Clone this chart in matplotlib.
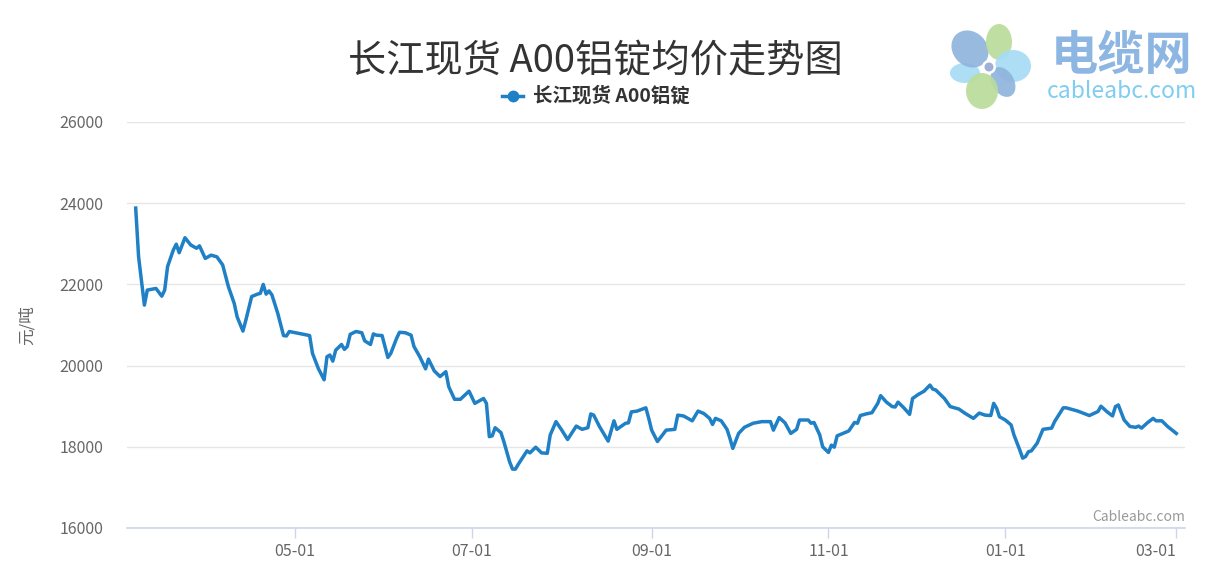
import matplotlib
matplotlib.use("Agg")
import matplotlib.pyplot as plt
import matplotlib.dates as mdates
from matplotlib.patches import Circle, Ellipse
import pandas as pd

plt.rcParams['font.family'] = ['Noto Sans CJK SC', 'DejaVu Sans']

title = "长江现货 A00铝锭均价走势图"
series_name = "长江现货 A00铝锭"
y_label = "元/吨"

dates = [
    "2022-03-07", "2022-03-08", "2022-03-10", "2022-03-11", "2022-03-14", "2022-03-16",
    "2022-03-17", "2022-03-18", "2022-03-20", "2022-03-21", "2022-03-22", "2022-03-24",
    "2022-03-26", "2022-03-28", "2022-03-29", "2022-03-31", "2022-04-02", "2022-04-04",
    "2022-04-06", "2022-04-08", "2022-04-10", "2022-04-11", "2022-04-13", "2022-04-14",
    "2022-04-16", "2022-04-18", "2022-04-19", "2022-04-20", "2022-04-21", "2022-04-22",
    "2022-04-23", "2022-04-25", "2022-04-27", "2022-04-28", "2022-04-29", "2022-05-06",
    "2022-05-07", "2022-05-09", "2022-05-11", "2022-05-12", "2022-05-13", "2022-05-14",
    "2022-05-15", "2022-05-17", "2022-05-18", "2022-05-19", "2022-05-20", "2022-05-22",
    "2022-05-24", "2022-05-25", "2022-05-27", "2022-05-28", "2022-05-29", "2022-05-31",
    "2022-06-02", "2022-06-03", "2022-06-05", "2022-06-06", "2022-06-08", "2022-06-10",
    "2022-06-11", "2022-06-13", "2022-06-15", "2022-06-16", "2022-06-18", "2022-06-20",
    "2022-06-22", "2022-06-23", "2022-06-25", "2022-06-27", "2022-06-30", "2022-07-02",
    "2022-07-05", "2022-07-06", "2022-07-07", "2022-07-08", "2022-07-09", "2022-07-11",
    "2022-07-12", "2022-07-14", "2022-07-15", "2022-07-16", "2022-07-17", "2022-07-20",
    "2022-07-21", "2022-07-23", "2022-07-25", "2022-07-27", "2022-07-28", "2022-07-30",
    "2022-08-01", "2022-08-03", "2022-08-06", "2022-08-08", "2022-08-10", "2022-08-11",
    "2022-08-12", "2022-08-14", "2022-08-17", "2022-08-19", "2022-08-20", "2022-08-23",
    "2022-08-24", "2022-08-25", "2022-08-27", "2022-08-30", "2022-08-31", "2022-09-01",
    "2022-09-03", "2022-09-06", "2022-09-09", "2022-09-10", "2022-09-12", "2022-09-15",
    "2022-09-17", "2022-09-19", "2022-09-21", "2022-09-22", "2022-09-23", "2022-09-25",
    "2022-09-27", "2022-09-28", "2022-09-29", "2022-10-01", "2022-10-03", "2022-10-06",
    "2022-10-09", "2022-10-12", "2022-10-13", "2022-10-15", "2022-10-17", "2022-10-19",
    "2022-10-21", "2022-10-22", "2022-10-25", "2022-10-26", "2022-10-27", "2022-10-29",
    "2022-10-30", "2022-11-01", "2022-11-02", "2022-11-03", "2022-11-04", "2022-11-06",
    "2022-11-08", "2022-11-10", "2022-11-11", "2022-11-12", "2022-11-14", "2022-11-16",
    "2022-11-18", "2022-11-19", "2022-11-21", "2022-11-23", "2022-11-24", "2022-11-25",
    "2022-11-27", "2022-11-29", "2022-11-30", "2022-12-02", "2022-12-04", "2022-12-06",
    "2022-12-07", "2022-12-08", "2022-12-11", "2022-12-13", "2022-12-16", "2022-12-18",
    "2022-12-21", "2022-12-23", "2022-12-25", "2022-12-27", "2022-12-28", "2022-12-29",
    "2022-12-30", "2023-01-01", "2023-01-03", "2023-01-04", "2023-01-06", "2023-01-07",
    "2023-01-08", "2023-01-09", "2023-01-10", "2023-01-12", "2023-01-14", "2023-01-17",
    "2023-01-18", "2023-01-21", "2023-01-22", "2023-01-26", "2023-01-30", "2023-02-02",
    "2023-02-03", "2023-02-05", "2023-02-07", "2023-02-08", "2023-02-09", "2023-02-11",
    "2023-02-13", "2023-02-15", "2023-02-16", "2023-02-17", "2023-02-19", "2023-02-21",
    "2023-02-22", "2023-02-24", "2023-02-26", "2023-03-01",
]
prices = [
    23880, 22680, 21490, 21860, 21900, 21710,
    21860, 22440, 22850, 22990, 22780, 23150,
    22970, 22890, 22950, 22640, 22720, 22680,
    22480, 21940, 21530, 21200, 20850, 21120,
    21700, 21760, 21780, 22000, 21760, 21840,
    21740, 21290, 20740, 20730, 20840, 20740,
    20300, 19930, 19650, 20220, 20260, 20110,
    20380, 20520, 20400, 20470, 20770, 20840,
    20810, 20610, 20520, 20780, 20750, 20740,
    20200, 20300, 20670, 20820, 20810, 20750,
    20470, 20220, 19920, 20160, 19870, 19730,
    19850, 19480, 19170, 19170, 19370, 19070,
    19190, 19070, 18250, 18270, 18470, 18350,
    18130, 17630, 17450, 17450, 17570, 17900,
    17850, 17990, 17850, 17840, 18290, 18620,
    18410, 18180, 18510, 18430, 18470, 18810,
    18780, 18500, 18140, 18640, 18430, 18580,
    18590, 18860, 18880, 18960, 18700, 18410,
    18130, 18410, 18430, 18780, 18760, 18640,
    18880, 18820, 18700, 18550, 18700, 18640,
    18430, 18210, 17960, 18330, 18480, 18580,
    18620, 18620, 18410, 18720, 18590, 18330,
    18430, 18660, 18660, 18580, 18600, 18290,
    18000, 17860, 18040, 17990, 18270, 18330,
    18390, 18600, 18580, 18770, 18810, 18840,
    19070, 19260, 19100, 18990, 18980, 19100,
    18960, 18800, 19190, 19290, 19370, 19520,
    19420, 19400, 19190, 18990, 18930, 18830,
    18700, 18830, 18780, 18770, 19070, 18950,
    18740, 18660, 18540, 18290, 17920, 17720,
    17760, 17880, 17900, 18090, 18430, 18460,
    18620, 18960, 18960, 18880, 18770, 18870,
    19000, 18870, 18760, 18990, 19030, 18660,
    18500, 18480, 18510, 18460, 18590, 18700,
    18640, 18640, 18500, 18330,
]

y_ticks = [16000, 18000, 20000, 22000, 24000, 26000]

line_color = '#1f80c6'

fig = plt.figure(figsize=(12.24, 5.81), dpi=100)
ax = fig.add_axes([127 / 1224, 1 - 528 / 581, (1185 - 127) / 1224, (528 - 122) / 581])

x = pd.to_datetime(dates)
ax.plot(x, prices, color=line_color, linewidth=2.5, solid_joinstyle='round')

ax.set_ylim(16000, 26000)
ax.set_yticks(y_ticks)
ax.set_xlim(pd.Timestamp("2022-03-04"), pd.Timestamp("2023-03-04"))
ax.xaxis.set_major_locator(mdates.MonthLocator(bymonth=[1, 3, 5, 7, 9, 11]))
ax.xaxis.set_major_formatter(mdates.DateFormatter('%m-%d'))

ax.grid(axis='y', color='#e6e6e6', linewidth=1)
ax.set_axisbelow(True)
for s in ['top', 'right', 'left']:
    ax.spines[s].set_visible(False)
ax.spines['bottom'].set_color('#ccd6eb')
ax.spines['bottom'].set_linewidth(1.2)

ax.tick_params(axis='y', length=0, pad=17, labelsize=11.5, labelcolor='#666666')
ax.tick_params(axis='x', length=7, width=1, color='#ccd6eb', pad=4,
               labelsize=11.5, labelcolor='#666666')
fig.canvas.draw()
xl = ax.get_xticklabels()
xl[-1].set_horizontalalignment('right')

ax.set_ylabel(y_label, fontsize=12, color='#666666', labelpad=17)

fig.text(595 / 1224, 1 - 62 / 581, title, ha='center', va='center',
         fontsize=27.5, color='#333333')

# legend
ly = 1 - 96 / 581
fig.add_artist(plt.Line2D([502 / 1224, 523 / 1224], [ly, ly], color=line_color,
                          linewidth=2.5, transform=fig.transFigure))
fig.add_artist(plt.Line2D([512.5 / 1224], [ly], color=line_color, marker='o',
                          markersize=7.5, linestyle='none', transform=fig.transFigure))
fig.text(533 / 1224, ly, series_name, ha='left', va='center',
         fontsize=14, fontweight='bold', color='#333333')

fig.text(1185 / 1224, 1 - 517 / 581, "Cableabc.com", ha='right', va='center',
         fontsize=10, color='#999999')

# logo: petals as ellipses pointing at the centre
lax = fig.add_axes([940 / 1224, 1 - 112 / 581, 100 / 1224, 95 / 581])
lax.set_xlim(940, 1040)
lax.set_ylim(112, 17)
lax.set_aspect('equal')
lax.axis('off')
petals = [
    (965, 73, 30, 20, 0, '#a6dcf6'),
    (970, 49, 40, 34, 45, '#8fb4dd'),
    (999, 42, 26, 36, 0, '#b9dc9a'),
    (1013, 66, 36, 32, 0, '#a6dcf6'),
    (1003, 82, 22, 32, -30, '#8fb4dd'),
    (982, 91, 32, 36, 0, '#b9dc9a'),
]
for cx, cy, w, h, a, c in petals:
    lax.add_patch(Ellipse((cx, cy), w, h, angle=a, color=c, alpha=0.92, linewidth=0))
lax.add_patch(Circle((989, 67), 7, color='white', linewidth=0))
lax.add_patch(Circle((989, 67), 4.5, color='#9fb0d6', linewidth=0))

fig.text(1122 / 1224, 1 - 56 / 581, "电缆网", ha='center', va='center',
         fontsize=34, fontweight='bold', color='#8db6e2')
fig.text(1122 / 1224, 1 - 92 / 581, "cableabc.com", ha='center', va='center',
         fontsize=16.5, color='#7fcdf0')

fig.savefig('out.png', dpi=100)
